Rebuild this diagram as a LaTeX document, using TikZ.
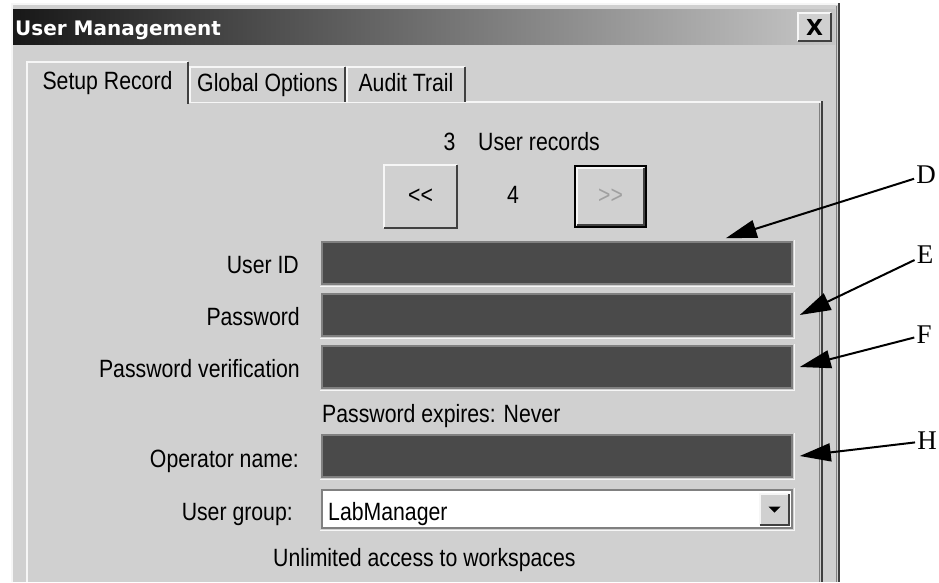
\documentclass[tikz,border=0pt]{standalone}
\usepackage{fontspec}
\usepackage{xcolor}
\usetikzlibrary{arrows.meta}
\setmainfont{Liberation Serif}
\newfontfamily\uifont[FakeStretch=0.85]{Liberation Sans}
\newfontfamily\titlefont{DejaVu Sans}
\definecolor{winface}{RGB}{208,208,208}
\definecolor{fielddark}{RGB}{74,74,74}
\definecolor{edgegray}{RGB}{128,128,128}
\definecolor{edgedark}{RGB}{64,64,64}
\definecolor{hilite}{RGB}{246,246,246}
\definecolor{titleleft}{RGB}{24,24,24}
\definecolor{titleright}{RGB}{198,198,198}
\definecolor{greytext}{RGB}{160,160,160}

\begin{document}
\begin{tikzpicture}[x=1pt,y=-1pt,
    ui/.style={font=\uifont\fontsize{25}{28}\selectfont,inner sep=0pt},
    field/.style={draw=edgegray,line width=1.5pt,fill=fielddark,minimum width=470pt,minimum height=42pt,inner sep=0pt},
    winbutton/.style={ui,fill=winface,minimum width=73pt,minimum height=63pt},
    tabbox/.style={ui,fill=winface,text height=18pt,text depth=5pt},
    callout/.style={font=\fontsize{27}{30}\selectfont,inner sep=2pt},
    pointer/.style={-{Triangle[length=31pt,width=18pt]},line width=2pt}]
\useasboundingbox (0,0) rectangle (939,582);

% Window frame and title bar
\fill[winface] (11,3) rectangle (839,582);
\draw[hilite,line width=2pt] (12,582) -- (12,4) -- (838,4);
\draw[edgedark,line width=2pt] (839,3) -- (839,582);
\draw[edgegray,line width=1pt] (836.5,6) -- (836.5,582);
\shade[left color=titleleft,right color=titleright] (13,9) rectangle (835,44);
\node[anchor=base west,text=white,font=\titlefont\bfseries\fontsize{20}{22}\selectfont,inner sep=0pt] (title) at (15,35) {User Management};
\node[winbutton,minimum width=33pt,minimum height=28pt,font=\titlefont\bfseries\fontsize{22}{22}\selectfont] (close) at (814.5,27) {X};

% Tab panel
\draw[hilite,line width=2pt] (27,582) -- (27,102) -- (821,102);
\draw[edgedark,line width=2pt] (822,101) -- (822,582);
\draw[edgegray,line width=1pt] (819.5,103) -- (819.5,582);

% Tabs
\node[tabbox,minimum width=155pt,minimum height=35pt] (tglobal) at (267.5,84.5) {Global Options};
\node[tabbox,minimum width=118pt,minimum height=35pt] (taudit) at (406,84.5) {Audit Trail};
\node[tabbox,minimum width=161pt,minimum height=42pt] (tsetup) at (107.5,83) {Setup Record};
\foreach \t in {tglobal,taudit,tsetup} {
  \draw[hilite,line width=2pt] (\t.south west) -- (\t.north west) -- (\t.north east);
  \draw[edgedark,line width=2pt] (\t.north east) -- (\t.south east);
}

% Record navigation
\node[ui,anchor=base] (count) at (449.5,150) {3};
\node[ui,anchor=base west] (records) at (478,150) {User records};
\node[winbutton] (prev) at (420.5,196.5) {<{}<};
\node[ui,anchor=base] (recno) at (513,203) {4};
\node[winbutton,minimum width=67pt,minimum height=57pt,text=greytext] (next) at (610.5,196.5) {>{}>};

% Labels
\node[ui,anchor=base east] (luid) at (299,273) {User ID};
\node[ui,anchor=base east] (lpwd) at (300,325) {Password};
\node[ui,anchor=base east] (lpwv) at (300,377) {Password verification};
\node[ui,anchor=base west] (expiry) at (322,422) {Password expires: Never};
\node[ui,anchor=base east] (lopn) at (299,467) {Operator name:};
\node[ui,anchor=base east] (lgrp) at (293,520) {User group:};
\node[ui,anchor=base west] (access) at (273,566) {Unlimited access to workspaces};

% Fields
\node[field] (uid) at (557,263) {};
\node[field] (pwd) at (557,315) {};
\node[field] (pwv) at (557,367) {};
\node[field] (opn) at (557,456) {};
\node[field,fill=white,minimum height=38pt] (grp) at (557,509) {};
\node[ui,anchor=base west] (grptext) at (328,520) {LabManager};
\node[winbutton,minimum width=29pt,minimum height=31pt] (drop) at (774.5,509.5) {};
\fill[black] (drop.center) ++(-6,-3) -- ++(12,0) -- ++(-6,6) -- cycle;
\foreach \f in {uid,pwd,pwv,opn,grp}
  \draw[hilite,line width=1.5pt] ([shift={(-1.5pt,-1.5pt)}]\f.south west) -- ([shift={(1.5pt,-1.5pt)}]\f.south east) -- ([shift={(1.5pt,1.5pt)}]\f.north east);

% Button edges
\foreach \b in {close,prev,next,drop} {
  \draw[hilite,line width=2pt] (\b.south west) -- (\b.north west) -- (\b.north east);
  \draw[edgedark,line width=2pt] (\b.south west) -- (\b.south east) -- (\b.north east);
}
\draw[black,line width=2.5pt] ([shift={(-2pt,-2pt)}]next.south west) rectangle ([shift={(2pt,2pt)}]next.north east);

% Callouts
\node[callout] (labD) at (926,175) {D};
\node[callout] (labE) at (925,255) {E};
\node[callout] (labF) at (924,335) {F};
\node[callout] (labH) at (927,441) {H};
\draw[pointer] (labD) -- ([shift={(-67pt,3pt)}]uid.north east);
\draw[pointer] (labE) -- ([xshift=7pt]pwd.east);
\draw[pointer] (labF) -- ([xshift=7pt]pwv.east);
\draw[pointer] (labH) -- ([xshift=7pt]opn.east);
\end{tikzpicture}
\end{document}
